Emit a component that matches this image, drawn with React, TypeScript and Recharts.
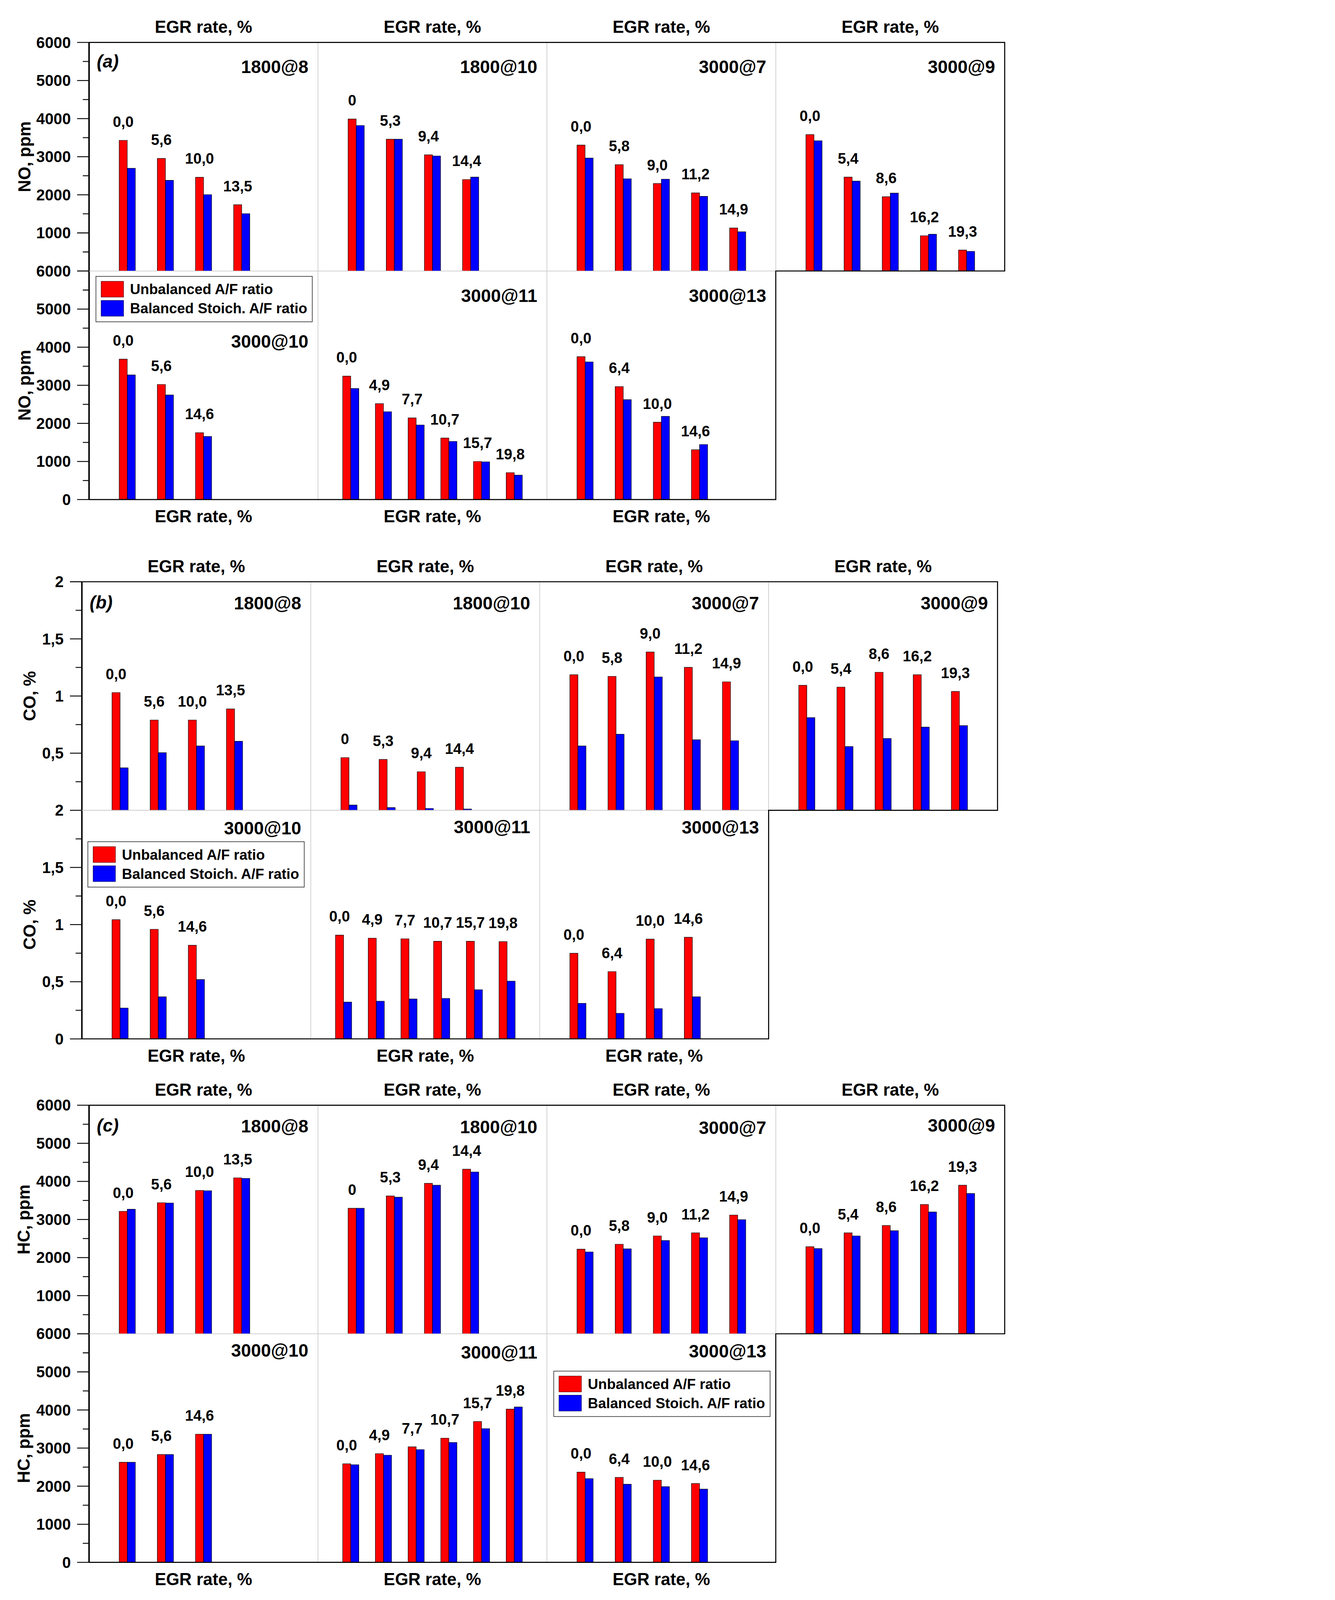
import React from 'react';
import { BarChart, Bar, XAxis, YAxis, LabelList, Legend } from 'recharts';

const FONT = '"Liberation Sans", Arial, Helvetica, sans-serif';
const RED = '#ff0000';
const BLUE = '#0000ff';
const GRAY = '#c4c4c4';

// full figure size and subplot geometry (px)
const FIG_W = 3417;
const FIG_H = 5355;
const SUB_W = 766;
const ROW_H = 765;
const PAD = 60;

// engine speed @ load for each subplot, in drawing order
const conditions = ['1800@8', '1800@10', '3000@7', '3000@9', '3000@10', '3000@11', '3000@13'];

// EGR rate labels over each pair of bars
const egrRates = [
  ['0,0', '5,6', '10,0', '13,5'],
  ['0', '5,3', '9,4', '14,4'],
  ['0,0', '5,8', '9,0', '11,2', '14,9'],
  ['0,0', '5,4', '8,6', '16,2', '19,3'],
  ['0,0', '5,6', '14,6'],
  ['0,0', '4,9', '7,7', '10,7', '15,7', '19,8'],
  ['0,0', '6,4', '10,0', '14,6'],
];

const seriesNames = ['Unbalanced A/F ratio', 'Balanced Stoich. A/F ratio'];

// NO, ppm
const noUnbalanced = [
  [3430, 2955, 2460, 1740],
  [3990, 3460, 3050, 2400],
  [3305, 2790, 2295, 2050, 1130],
  [3580, 2465, 1950, 925, 550],
  [3686, 3021, 1754],
  [3240, 2517, 2144, 1616, 999, 706],
  [3751, 2964, 2030, 1307],
];
const noBalanced = [
  [2695, 2380, 2005, 1505],
  [3820, 3460, 3020, 2465],
  [2965, 2420, 2410, 1960, 1030],
  [3420, 2360, 2045, 965, 515],
  [3272, 2745, 1656],
  [2915, 2306, 1957, 1527, 991, 641],
  [3613, 2623, 2184, 1445],
];

// CO, %
const coUnbalanced = [
  [1.03, 0.79, 0.79, 0.887],
  [0.461, 0.445, 0.337, 0.377],
  [1.186, 1.172, 1.385, 1.251, 1.124],
  [1.094, 1.078, 1.208, 1.186, 1.04],
  [1.043, 0.959, 0.819],
  [0.908, 0.881, 0.876, 0.854, 0.854, 0.851],
  [0.749, 0.589, 0.873, 0.889],
];
const coBalanced = [
  [0.372, 0.504, 0.563, 0.604],
  [0.046, 0.024, 0.016, 0.011],
  [0.563, 0.666, 1.167, 0.617, 0.609],
  [0.811, 0.558, 0.628, 0.728, 0.741],
  [0.27, 0.368, 0.519],
  [0.322, 0.33, 0.349, 0.354, 0.43, 0.505],
  [0.311, 0.224, 0.265, 0.368],
];

// HC, ppm
const hcUnbalanced = [
  [3214, 3440, 3763, 4094],
  [3295, 3618, 3949, 4320],
  [2221, 2350, 2568, 2649, 3117],
  [2285, 2649, 2842, 3392, 3900],
  [2627, 2830, 3365],
  [2586, 2854, 3032, 3259, 3697, 4022],
  [2368, 2230, 2157, 2068],
];
const hcBalanced = [
  [3270, 3432, 3755, 4078],
  [3295, 3585, 3900, 4247],
  [2148, 2229, 2447, 2519, 2996],
  [2237, 2568, 2705, 3198, 3682],
  [2627, 2830, 3365],
  [2562, 2813, 2959, 3146, 3511, 4078],
  [2197, 2051, 1986, 1922],
];

const ppmTicks = [0, 500, 1000, 1500, 2000, 2500, 3000, 3500, 4000, 4500, 5000, 5500, 6000];
const coTicks = [0, 0.25, 0.5, 0.75, 1, 1.25, 1.5, 1.75, 2];

const panels = [
  {
    tag: '(a)', yLabel: 'NO, ppm', unb: noUnbalanced, bal: noBalanced,
    ticks: ppmTicks, major: 1000, max: 6000,
    left: 298, top: 142, yLabelX: 82, tagDy: 84,
    titleDy: [103, 103, 103, 103, 256, 103, 103],
    legend: { idx: 4, x: 320, y: 924 },
  },
  {
    tag: '(b)', yLabel: 'CO, %', unb: coUnbalanced, bal: coBalanced,
    ticks: coTicks, major: 0.5, max: 2,
    left: 274, top: 1947, yLabelX: 100, tagDy: 90,
    titleDy: [93, 93, 93, 93, 80, 76, 78],
    legend: { idx: 4, x: 293, y: 2816 },
  },
  {
    tag: '(c)', yLabel: 'HC, ppm', unb: hcUnbalanced, bal: hcBalanced,
    ticks: ppmTicks, major: 1000, max: 6000,
    left: 298, top: 3699, yLabelX: 80, tagDy: 89,
    titleDy: [91, 94, 96, 88, 76, 83, 79],
    legend: { idx: 6, x: 1852, y: 4588 },
  },
];

const fmtTick = (v: number) => String(v).replace('.', ',');

function LegendBox({ payload }: any) {
  // keep the series order (recharts sorts legend items by name)
  const items = [...(payload || [])].sort((a: any, b: any) => (a.dataKey === 'u' ? -1 : 1) - (b.dataKey === 'u' ? -1 : 1));
  return (
    <div
      style={{
        width: 726, height: 154, boxSizing: 'border-box', border: '2px solid #222',
        background: '#fff', position: 'relative', fontFamily: FONT,
      }}
    >
      {items.map((entry: any, i: number) => (
        <div
          key={i}
          style={{ position: 'absolute', left: 16, top: 15 + i * 64, height: 54, display: 'flex', alignItems: 'center' }}
        >
          <div
            style={{
              width: 76, height: 54, boxSizing: 'border-box', border: '1.5px solid #000',
              background: entry.dataKey === 'u' ? RED : BLUE,
            }}
          />
          <span style={{ marginLeft: 21, fontSize: 48, fontWeight: 'bold', color: '#000', whiteSpace: 'nowrap' }}>
            {entry.value}
          </span>
        </div>
      ))}
    </div>
  );
}

function Subplot({ panel, idx }: any) {
  const row = idx < 4 ? 0 : 1;
  const col = idx < 4 ? idx : idx - 4;
  const n = egrRates[idx].length;
  const data = egrRates[idx].map((label, i) => ({
    x: i + 1,
    label,
    u: panel.unb[idx][i],
    b: panel.bal[idx][i],
  }));
  const isLeft = col === 0;
  const axisW = isLeft ? panel.left : 0;
  const chartLeft = isLeft ? 0 : panel.left + col * SUB_W;
  const chartTop = panel.top + row * ROW_H - PAD;
  // the top row leaves its zero to the row below (shown there as the max label)
  const ticks = row === 0 ? panel.ticks.slice(1) : panel.ticks;
  const hasLegend = panel.legend.idx === idx;

  const renderTick = (props: any) => {
    const { x, y, payload } = props;
    const v = payload.value;
    const r = v / panel.major;
    const major = Math.abs(r - Math.round(r)) < 1e-6;
    return (
      <g>
        <line x1={x - (major ? 40 : 21)} x2={x} y1={y} y2={y} stroke="#000" strokeWidth={3} />
        {major && (
          <text
            x={x - 61} y={y} textAnchor="end" dominantBaseline="central"
            fontSize={52} fontWeight="bold" fontFamily={FONT} fill="#000"
          >
            {fmtTick(v)}
          </text>
        )}
      </g>
    );
  };

  return (
    <div style={{ position: 'absolute', left: chartLeft, top: chartTop }}>
      <BarChart
        width={axisW + SUB_W}
        height={ROW_H + 2 * PAD}
        data={data}
        margin={{ top: PAD, right: 0, bottom: PAD, left: 0 }}
        barGap={0}
        barSize={27}
      >
        <XAxis type="number" dataKey="x" domain={[0, n > 5 ? n + 1 : 6]} hide />
        <YAxis
          hide={!isLeft}
          width={axisW || 1}
          type="number"
          domain={[0, panel.max]}
          allowDataOverflow
          ticks={ticks}
          interval={0}
          tickSize={0}
          tickMargin={0}
          tickLine={false}
          axisLine={{ stroke: '#000', strokeWidth: 5 }}
          tick={renderTick}
        />
        <Bar dataKey="u" name={seriesNames[0]} fill={RED} stroke="#000" strokeWidth={1.5} isAnimationActive={false}>
          <LabelList
            dataKey="label" position="top" offset={45}
            fill="#000" fontSize={50} fontWeight="bold" fontFamily={FONT}
          />
        </Bar>
        <Bar dataKey="b" name={seriesNames[1]} fill={BLUE} stroke="#000" strokeWidth={1.5} isAnimationActive={false} />
        {hasLegend && (
          <Legend
            layout="vertical"
            align="center"
            verticalAlign="middle"
            content={<LegendBox />}
            wrapperStyle={{ left: panel.legend.x - chartLeft, top: panel.legend.y - chartTop, width: 'auto', height: 'auto' }}
          />
        )}
      </BarChart>
    </div>
  );
}

function PanelOverlay({ panel }: any) {
  const L = panel.left;
  const T = panel.top;
  const W = SUB_W;
  const H = ROW_H;
  const txt = { fontFamily: FONT, fontWeight: 'bold' as const, fill: '#000' };
  return (
    <g>
      {/* light dividers between subplots */}
      {[1, 2, 3].map(c => (
        <line key={'t' + c} x1={L + c * W} x2={L + c * W} y1={T} y2={T + H} stroke={GRAY} strokeWidth={2} />
      ))}
      {[1, 2].map(c => (
        <line key={'b' + c} x1={L + c * W} x2={L + c * W} y1={T + H} y2={T + 2 * H} stroke={GRAY} strokeWidth={2} />
      ))}
      <line x1={L} x2={L + 3 * W} y1={T + H} y2={T + H} stroke={GRAY} strokeWidth={2} />
      {/* stepped black frame */}
      <polyline
        points={`${L},${T} ${L + 4 * W},${T} ${L + 4 * W},${T + H} ${L + 3 * W},${T + H} ${L + 3 * W},${T + 2 * H} ${L},${T + 2 * H}`}
        fill="none" stroke="#000" strokeWidth={3.5}
      />
      {/* x-axis titles */}
      {[0, 1, 2, 3].map(c => (
        <text key={'xt' + c} x={L + (c + 0.5) * W} y={T - 32} textAnchor="middle" fontSize={57} {...txt}>
          EGR rate, %
        </text>
      ))}
      {[0, 1, 2].map(c => (
        <text key={'xb' + c} x={L + (c + 0.5) * W} y={T + 2 * H + 76} textAnchor="middle" fontSize={57} {...txt}>
          EGR rate, %
        </text>
      ))}
      {/* y-axis titles */}
      {[0, 1].map(r => (
        <text
          key={'y' + r}
          transform={`translate(${panel.yLabelX},${T + (r + 0.5) * H}) rotate(-90)`}
          textAnchor="middle" dominantBaseline="central" fontSize={57} {...txt}
        >
          {panel.yLabel}
        </text>
      ))}
      {/* panel tag */}
      <text x={L + 26} y={T + panel.tagDy} fontSize={60} fontStyle="italic" {...txt}>{panel.tag}</text>
      {/* operating condition titles */}
      {conditions.map((name, i) => {
        const row = i < 4 ? 0 : 1;
        const col = i < 4 ? i : i - 4;
        return (
          <text
            key={name}
            x={L + (col + 1) * W - 32}
            y={T + row * H + panel.titleDy[i]}
            textAnchor="end" fontSize={60} {...txt}
          >
            {name}
          </text>
        );
      })}
    </g>
  );
}

export default function App() {
  // the browser window may be shorter than the figure; shrink the whole figure to fit
  const vw = typeof window !== 'undefined' ? window.innerWidth : FIG_W;
  const vh = typeof window !== 'undefined' ? window.innerHeight : FIG_H;
  const s = Math.min(1, vw / FIG_W, vh / FIG_H);
  return (
    <div style={{ position: 'fixed', left: 0, top: 0, width: FIG_W * s, height: FIG_H * s, overflow: 'hidden', background: '#fff' }}>
      <div
        style={{
          position: 'relative', width: FIG_W, height: FIG_H, background: '#fff', fontFamily: FONT,
          transform: `scale(${s})`, transformOrigin: '0 0',
        }}
      >
        {panels.map((p, pi) =>
          conditions.map((_, i) => <Subplot key={pi + '-' + i} panel={p} idx={i} />)
        )}
        <svg width={FIG_W} height={FIG_H} style={{ position: 'absolute', left: 0, top: 0, pointerEvents: 'none' }}>
          {panels.map((p, pi) => <PanelOverlay key={pi} panel={p} />)}
        </svg>
      </div>
    </div>
  );
}
